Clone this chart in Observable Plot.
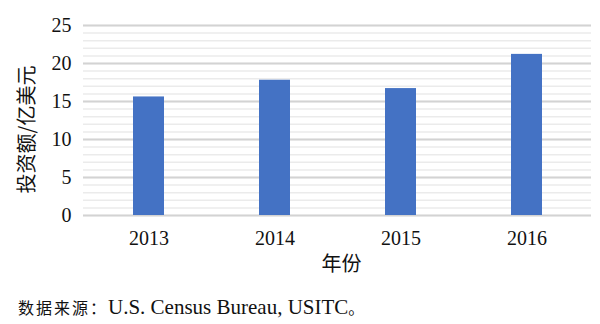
<!DOCTYPE html>
<html>
<head>
<meta charset="utf-8">
<script src="https://cdn.jsdelivr.net/npm/d3@7"></script>
<script src="https://cdn.jsdelivr.net/npm/@observablehq/plot@0.6"></script>
<style>
  html, body { margin: 0; padding: 0; background: #fff; }
  #caption { margin: 0; padding: 5px 0 0 18px; font-family: "Liberation Serif", "Noto Sans CJK SC", serif; font-size: 21px; line-height: 24px; color: #111; white-space: nowrap; }
  #caption .cjk { font-family: "Noto Sans CJK SC", sans-serif; font-size: 16px; letter-spacing: 2px; }
</style>
</head>
<body>
<div id="chart"></div>
<div id="caption"><span class="cjk">数据来源：</span>U.S. Census Bureau, USITC<span class="cjk">。</span></div>
<script>
const years = ["2013", "2014", "2015", "2016"];
const investment = [15.6, 17.8, 16.7, 21.2];
const yTicks = [0, 5, 10, 15, 20, 25];
const yMinorTicks = d3.range(0, 26, 1);
const yTitle = "投资额/亿美元";
const xTitle = "年份";

const data = years.map((y, i) => ({year: y, value: investment[i]}));

const chart = Plot.plot({
  width: 600,
  height: 290,
  marginTop: 25,
  marginBottom: 75,
  marginLeft: 83,
  marginRight: 9,
  style: {fontFamily: "Liberation Serif, serif", fontSize: "20px", color: "#111", background: "#fff"},
  x: {domain: years, paddingInner: 0.755, paddingOuter: 0.39},
  y: {domain: [0, 25]},
  marks: [
    Plot.gridY(yMinorTicks, {stroke: "#ebebeb", strokeOpacity: 1, strokeWidth: 1.5}),
    Plot.gridY(yTicks, {stroke: "#d3d3d3", strokeOpacity: 1, strokeWidth: 2}),
    Plot.barY(data, {x: "year", y: "value", fill: "#4472C4"}),
    Plot.axisY({ticks: yTicks, tickSize: 0, tickPadding: 12, label: null}),
    Plot.axisX({tickSize: 0, tickPadding: 15, label: null}),
    Plot.text([yTitle], {text: d => d, frameAnchor: "left", textAnchor: "middle", lineAnchor: "middle", rotate: -90, dx: -56, dy: 9, fontSize: 20, fontFamily: "Noto Sans CJK SC, sans-serif", fill: "#111"}),
    Plot.text([xTitle], {text: d => d, frameAnchor: "bottom", textAnchor: "middle", lineAnchor: "middle", dx: 4, dy: 49, fontSize: 20, fontFamily: "Noto Sans CJK SC, sans-serif", fill: "#111"})
  ]
});
document.getElementById("chart").appendChild(chart);
</script>
</body>
</html>
